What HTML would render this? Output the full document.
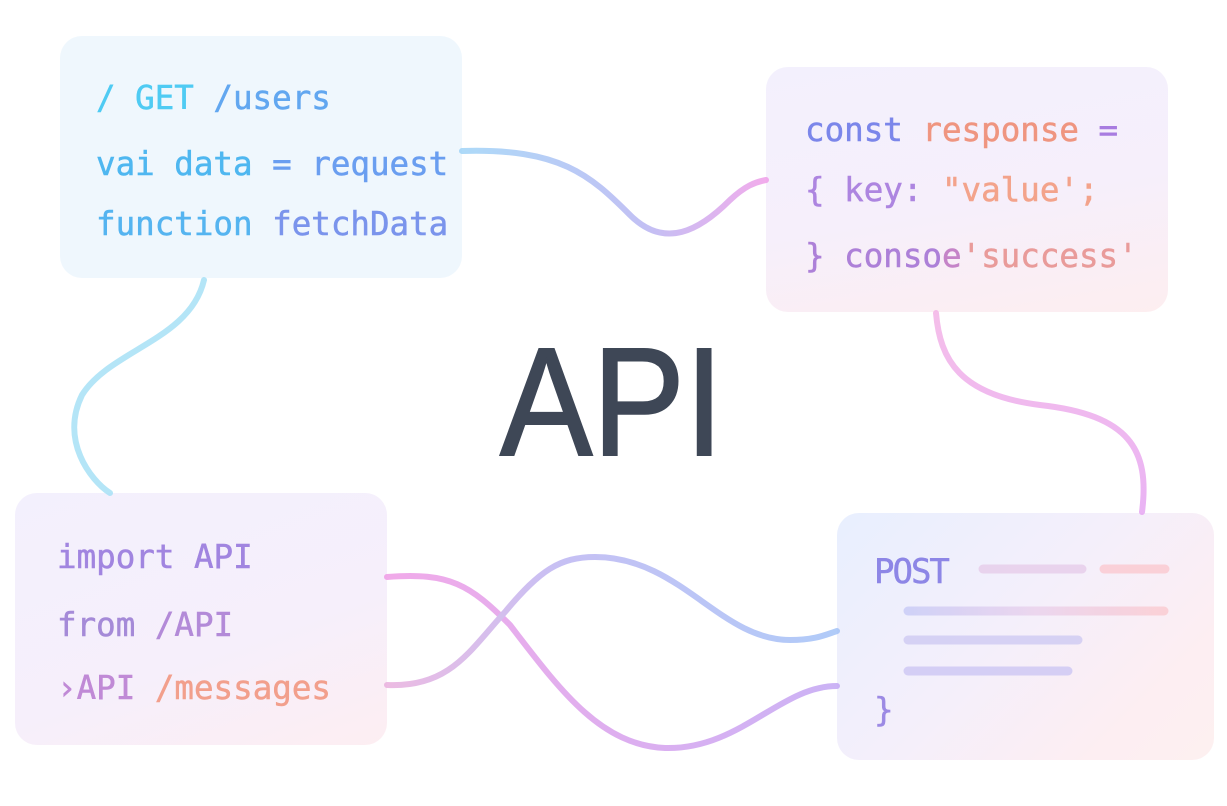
<!DOCTYPE html>
<html><head><meta charset="utf-8"><style>
body{margin:0;width:1227px;height:806px;background:#fff;position:relative;overflow:hidden;font-family:"DejaVu Sans Mono","Liberation Mono",monospace}
.b{position:absolute;border-radius:22px}
.t{position:absolute;font-size:32.5px;white-space:pre;line-height:1;-webkit-text-stroke:0.5px currentColor}
svg{position:absolute;left:0;top:0}
</style></head><body>
<div class="b" style="left:60px;top:36px;width:402px;height:242px;background:#eff7fd"></div>
<div class="b" style="left:766px;top:67px;width:402px;height:245px;background:linear-gradient(170deg,#f3f0fd 0%,#f6effb 55%,#fdeef0 100%)"></div>
<div class="b" style="left:15px;top:493px;width:372px;height:252px;background:linear-gradient(160deg,#f3f0fd 0%,#f6effb 60%,#fdeef2 100%)"></div>
<div class="b" style="left:837px;top:513px;width:377px;height:247px;background:linear-gradient(135deg,#e8effe 0%,#f4effb 45%,#fdeef2 80%,#fdf0f0 100%)"></div>

<svg width="1227" height="806">
<defs>
<linearGradient id="g1" x1="0" x2="1"><stop offset="0" stop-color="#9fd3f7"/><stop offset=".6" stop-color="#b7b5f2"/><stop offset="1" stop-color="#ef9de8"/></linearGradient>
<linearGradient id="g2" x1="0" x2="1"><stop offset="0" stop-color="#ef9ce6"/><stop offset="1" stop-color="#c3a6f4"/></linearGradient>
<linearGradient id="g3" x1="0" x2="1"><stop offset="0" stop-color="#e9b0de"/><stop offset=".4" stop-color="#bcb6f3"/><stop offset="1" stop-color="#a3c2f7"/></linearGradient>
<linearGradient id="g5" gradientUnits="userSpaceOnUse" x1="908" y1="0" x2="1164" y2="0"><stop offset="0" stop-color="#c8caf6"/><stop offset=".5" stop-color="#ead0ec"/><stop offset="1" stop-color="#fbcad0"/></linearGradient>
<linearGradient id="g4" x1="0" y1="0" x2="0" y2="1"><stop offset="0" stop-color="#f3b3e6"/><stop offset="1" stop-color="#e6a6f2"/></linearGradient>
</defs>
<g fill="none" stroke-width="6" stroke-linecap="round" opacity=".85">
<path d="M462 151 C560 148 590 175 630 215 C665 250 700 230 730 200 C745 186 755 182 766 180" stroke="url(#g1)"/>
<path d="M204 280 C190 340 110 350 82 395 C60 440 90 480 110 493" stroke="#a7e0f6"/>
<path d="M936 313 C940 360 960 395 1040 405 C1130 415 1150 450 1142 512" stroke="url(#g4)"/>
<path d="M387 577 C450 572 470 585 510 625 C560 690 600 745 665 748 C740 750 780 686 837 686" stroke="url(#g2)"/>
<path d="M387 685 C450 688 470 650 505 612 C540 570 560 557 595 557 C680 557 720 640 790 640 C815 640 825 635 837 631" stroke="url(#g3)"/>
</g>
<g stroke-width="9" stroke-linecap="round" opacity=".8">
<line x1="983" y1="569" x2="1082" y2="569" stroke="#e7cdea"/>
<line x1="1104" y1="569" x2="1165" y2="569" stroke="#fbc9d0"/>
<line x1="908" y1="611" x2="1164" y2="611" stroke="url(#g5)"/>
<line x1="908" y1="640" x2="1078" y2="640" stroke="#cfcaf3"/>
<line x1="908" y1="671" x2="1068" y2="671" stroke="#cdc7f4"/>
</g>
</svg>

<div class="t" style="left:96px;top:82px"><span style="color:#4fcbf3">/ GET</span> <span style="color:#62a7f0">/users</span></div>
<div class="t" style="left:96px;top:148px"><span style="color:#4fb7f0">vai data</span> <span style="color:#6a9ef0">= request</span></div>
<div class="t" style="left:96px;top:208px"><span style="color:#55b4f0">function</span> <span style="color:#7a94ec">fetchData</span></div>

<div class="t" style="left:805px;top:114px"><span style="color:#7b86ea">const</span> <span style="color:#ef9580">response</span> <span style="color:#a87ce0">=</span></div>
<div class="t" style="left:805px;top:174px"><span style="color:#ad85e0">{ key:</span> <span style="color:#f3a38b">"value';</span></div>
<div class="t" style="left:805px;top:240px"><span style="color:#ad80d8">} conso</span><span style="color:#c584c8">e</span><span style="color:#e99b9a">'success'</span></div>

<div class="t" style="left:57px;top:541px;color:#a185e0">import API</div>
<div class="t" style="left:57px;top:609px;color:#a58ad8">from <span style="color:#b38ad8">/API</span></div>
<div class="t" style="left:57px;top:672px"><span style="color:#c08ad6">›API</span> <span style="color:#f29f8c">/messages</span></div>

<div class="t" style="left:874px;top:555px;color:#8d86e6;font-size:34px;letter-spacing:-2px">POST</div>
<div class="t" style="left:874px;top:694px;color:#9c8ae4">}</div>

<div style="position:absolute;left:500px;top:325px;font-family:'Liberation Sans',sans-serif;font-size:154px;color:#3e4756;line-height:1;transform:scaleX(0.9);transform-origin:0 0;-webkit-text-stroke:2px #3e4756">API</div>
</body></html>
